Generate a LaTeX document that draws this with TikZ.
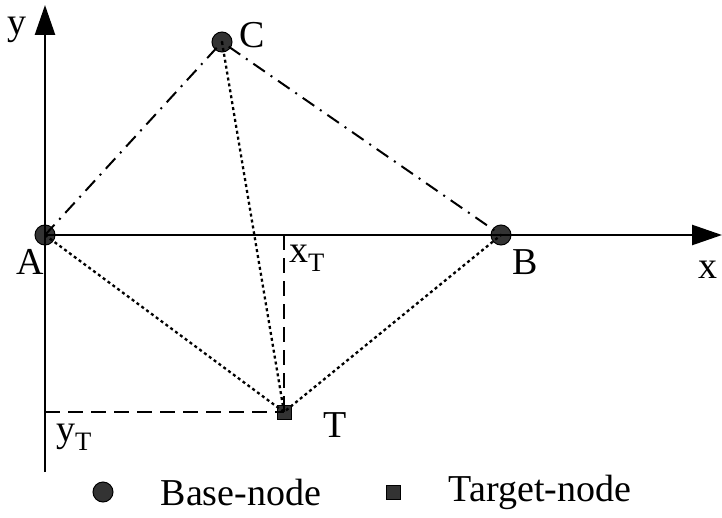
\documentclass[tikz,border=0pt]{standalone}
\usepackage{fontspec}
\setmainfont{Liberation Serif}
\usetikzlibrary{arrows.meta,positioning}
\begin{document}
\begin{tikzpicture}[x=1pt,y=1pt,
	basenode/.style={circle,draw=black,line width=1pt,fill=black!80,inner sep=0pt,minimum size=20pt},
	targetnode/.style={rectangle,draw=black,line width=1pt,fill=black!80,inner sep=0pt,minimum size=14pt},
	lbl/.style={font=\fontsize{38}{42}\selectfont,inner sep=0pt},
	axis/.style={line width=2.5pt,-{Triangle[length=30pt,width=20pt]}},
	dashdot/.style={line width=2pt,dash pattern=on 14pt off 7pt on 2pt off 7pt},
	dots/.style={line width=2.3pt,dash pattern=on 3pt off 3pt},
	proj/.style={line width=2pt,dash pattern=on 15pt off 8pt}]
	\useasboundingbox (-45,-282) rectangle (677,235);
	% axes
	\coordinate (ybot) at (0,-237);
	\coordinate (ytop) at (0,230);
	\coordinate (xend) at (677,0);
	\node[basenode] (A) at (0,0) {};
	\node[basenode] (B) at (456,0) {};
	\node[basenode] (C) at (177,193) {};
	\node[targetnode] (T) at (239,-177) {};
	\draw[axis] (ybot) -- (ytop);
	\draw[axis] (A.center) -- (xend);
	% links
	\draw[dashdot] (A.center) -- (C.center) -- (B.center);
	\draw[dots] (A.center) -- (T.center) -- (B.center);
	\draw[dots] (C.center) -- (T.center);
	\coordinate (xT) at (T |- A);
	\coordinate (yT) at (A |- T);
	\draw[proj] (xT) -- (T.center);
	\draw[proj] (yT) -- (T.center);
	% labels
	\node[lbl] at (-28,205) {y};
	\node[lbl] at (663,-35) {x};
	\node[lbl] at (-15,-27) {A};
	\node[lbl] at (480,-27) {B};
	\node[lbl] at (207,200) {C};
	\node[lbl] at (262,-23) {x\textsubscript{T}};
	\node[lbl] at (290,-190) {T};
	\node[lbl] at (29,-202) {y\textsubscript{T}};
	% legend
	\node[basenode] (leg1) at (58,-257) {};
	\node[lbl,right=47pt of leg1] (legtxt1) {Base-node};
	\node[targetnode] (leg2) at (348,-257) {};
	\node[lbl,right=48pt of leg2] (legtxt2) {Target-node};
\end{tikzpicture}
\end{document}
